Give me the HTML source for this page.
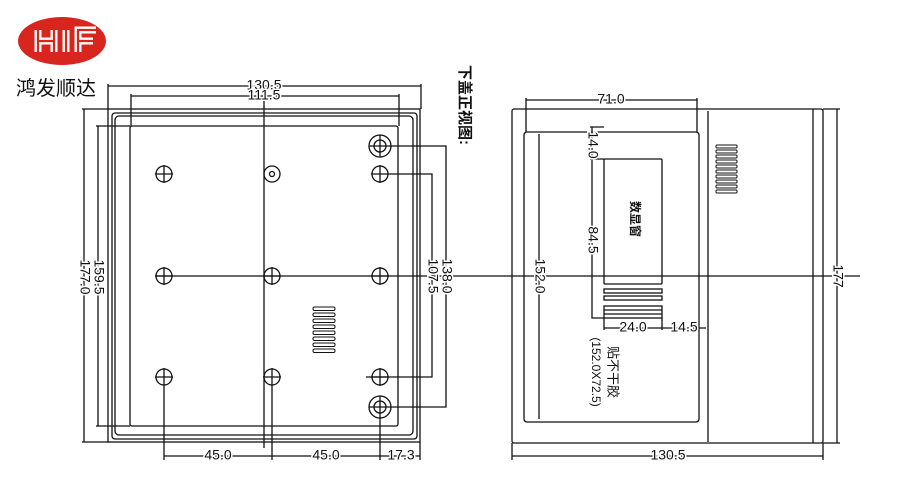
<!DOCTYPE html>
<html><head><meta charset="utf-8"><style>
html,body{margin:0;padding:0;background:#fff;}
svg{display:block;}
text{font-family:"Liberation Sans","Noto Sans CJK SC",sans-serif;fill:#111;}
.lb{paint-order:stroke;stroke:#fff;stroke-width:3px;}
</style></head><body>
<svg width="900" height="500" viewBox="0 0 900 500" xmlns="http://www.w3.org/2000/svg">
<!-- logo -->
<ellipse cx="62" cy="41" rx="44" ry="24" fill="#d8261f"/>
<g fill="none" stroke-linecap="butt">
<path d="M38 30 V52 M38 41 H54 M54 30 V52 M66 30 V52 M78 52 V30 H96 M78 41 H93" stroke="#fff" stroke-width="7"/>
<path d="M38 30 V52 M38 41 H54 M54 30 V52 M66 30 V52 M78 52 V30 H96 M78 41 H93" stroke="#d8261f" stroke-width="2.2"/>
</g>
<text x="16" y="95" font-size="20" fill="#333">鸿发顺达</text>

<g stroke="#111" fill="none" stroke-width="1.3">
<!-- LEFT VIEW -->
<rect x="108" y="109" width="312" height="333"/>
<rect x="112" y="113" width="305" height="326" rx="3"/>
<rect x="115" y="116" width="298" height="319" rx="4"/>
<rect x="130" y="126" width="268" height="300" rx="2"/>
<path d="M108 86 H421 M108 84 V109 M421 84 V109"/>
<path d="M131 96 H399 M131 94 V126 M399 94 V126"/>
<path d="M84 109 V442 M82 109 H108 M82 442 H108"/>
<path d="M98 126 V426 M96 126 H130 M96 426 H130"/>
<path d="M264 96 V448"/>
<path d="M155 276 H860"/>
<circle cx="164" cy="174" r="8"/><circle cx="380" cy="174" r="8"/>
<circle cx="272" cy="174" r="8"/><circle cx="272" cy="174" r="2.5"/>
<circle cx="164" cy="276" r="8"/><circle cx="272" cy="276" r="8"/><circle cx="380" cy="276" r="8"/>
<circle cx="164" cy="377" r="8"/><circle cx="272" cy="377" r="8"/><circle cx="380" cy="377" r="8"/>
<circle cx="380" cy="146" r="11"/><circle cx="380" cy="146" r="6"/>
<circle cx="380" cy="407" r="11"/><circle cx="380" cy="407" r="6"/>
<path d="M155 174 H173 M164 165 V183 M371 174 H389 M380 165 V183 M155 276 H173 M164 267 V285 M263 276 H281 M272 267 V285 M371 276 H389 M380 267 V285 M155 377 H173 M164 368 V386 M263 377 H281 M272 368 V386 M371 377 H389 M380 368 V386 M369 146 H391 M380 135 V157 M369 407 H391 M380 396 V418"/>
<path d="M389 174 H432 V377 H366"/>
<path d="M391 146 H446 V407 H391"/>
<path d="M164 386 V460 M272 386 V460 M380 418 V460 M420 442 V460 M164 456 H420"/>
<g stroke-width="1">
<rect x="313" y="307" width="22" height="3.5" rx="1.5"/><rect x="313" y="313" width="22" height="3.5" rx="1.5"/>
<rect x="313" y="319" width="22" height="3.5" rx="1.5"/><rect x="313" y="325" width="22" height="3.5" rx="1.5"/>
<rect x="313" y="331" width="22" height="3.5" rx="1.5"/><rect x="313" y="337" width="22" height="3.5" rx="1.5"/>
<rect x="313" y="343" width="22" height="3.5" rx="1.5"/><rect x="313" y="349" width="22" height="3.5" rx="1.5"/>
</g>

<!-- RIGHT VIEW -->
<rect x="512" y="109" width="311" height="334" rx="2"/>
<path d="M708 111 V442 M813 109 V443"/>
<rect x="524" y="132" width="175" height="290" rx="3"/>
<path d="M526 100 H697 M526 98 V132 M697 98 V132"/>
<path d="M539 134 V419"/>
<path d="M837 109 V443 M823 109 H840 M823 443 H840"/>
<path d="M512 456 H823 M512 443 V460 M823 443 V460"/>
<rect x="604" y="159" width="58" height="125" rx="1"/>
<rect x="604" y="289" width="58" height="4"/>
<rect x="604" y="296" width="58" height="4"/>
<rect x="604" y="306" width="58" height="12"/>
<path d="M604 310 H662 M604 314 H662"/>
<path d="M590 127 H604 M592 127 V318 H604 M590 159 H604"/>
<path d="M604 318 V330 M662 318 V330 M604 328 H706"/>
<g stroke-width="1">
<rect x="716" y="145" width="21" height="3" rx="1"/><rect x="716" y="150" width="21" height="3" rx="1"/>
<rect x="716" y="155" width="21" height="3" rx="1"/><rect x="716" y="160" width="21" height="3" rx="1"/>
<rect x="716" y="165" width="21" height="3" rx="1"/><rect x="716" y="170" width="21" height="3" rx="1"/>
<rect x="716" y="175" width="21" height="3" rx="1"/><rect x="716" y="180" width="21" height="3" rx="1"/>
<rect x="716" y="185" width="21" height="3" rx="1"/><rect x="716" y="190" width="21" height="3" rx="1"/>
</g>
</g>

<g font-size="14" text-anchor="middle" dominant-baseline="middle">
<text class="lb" x="264" y="86">130.5</text>
<text class="lb" x="264" y="96">111.5</text>
<text class="lb" x="218" y="456">45.0</text>
<text class="lb" x="326" y="456">45.0</text>
<text class="lb" x="401" y="456">17.3</text>
<text class="lb" x="611" y="100">71.0</text>
<text class="lb" x="633" y="328">24.0</text>
<text class="lb" x="684" y="328">14.5</text>
<text class="lb" x="668" y="456">130.5</text>
<text class="lb" transform="translate(84,277) rotate(90)">177.0</text>
<text class="lb" transform="translate(98,277) rotate(90)">159.5</text>
<text class="lb" transform="translate(432,276) rotate(90)">107.5</text>
<text class="lb" transform="translate(446,276) rotate(90)">138.0</text>
<text class="lb" transform="translate(539,276) rotate(90)">152.0</text>
<text class="lb" transform="translate(837,276) rotate(90)">177</text>
<text class="lb" transform="translate(592,145) rotate(90)">14.0</text>
<text class="lb" transform="translate(592,240) rotate(90)">84.5</text>
<text transform="translate(634,219) rotate(90)" font-size="12" font-weight="bold">数显窗</text>
<text transform="translate(612,372) rotate(90)" font-size="13">贴不干胶</text>
<text transform="translate(595,372) rotate(90)" font-size="12">(152.0X72.5)</text>
<text transform="translate(464,105) rotate(90)" font-size="15" font-weight="bold">下盖正视图:</text>
</g>
</svg>
</body></html>
